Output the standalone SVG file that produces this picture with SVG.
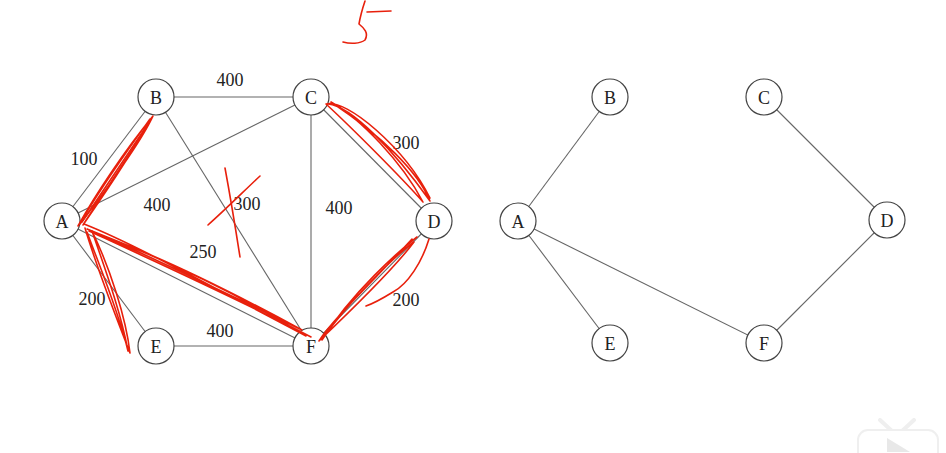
<svg xmlns="http://www.w3.org/2000/svg" width="946" height="453" viewBox="0 0 946 453">
<style>
.node circle{fill:#fff;stroke:#444;stroke-width:1.2}
.node text{font-family:"Liberation Serif",serif;font-size:18px;fill:#222;text-anchor:middle;dominant-baseline:central}
.edge{stroke:#666;stroke-width:1.1;fill:none}
.lbl{font-family:"Liberation Serif",serif;font-size:18px;fill:#222;text-anchor:middle;dominant-baseline:central}
.red{stroke:#e8200c;stroke-width:1.6;fill:none;stroke-linecap:round;stroke-linejoin:round}
</style>
<rect width="946" height="453" fill="#fff"/>
<g id="connectors">
  <line class="edge" x1="62" y1="221" x2="156" y2="97"/>
  <line class="edge" x1="156" y1="97" x2="311" y2="97"/>
  <line class="edge" x1="62" y1="221" x2="311" y2="97"/>
  <line class="edge" x1="156" y1="97" x2="311" y2="346"/>
  <line class="edge" x1="311" y1="97" x2="311" y2="346"/>
  <line class="edge" x1="311" y1="97" x2="434" y2="221"/>
  <line class="edge" x1="434" y1="221" x2="311" y2="346"/>
  <line class="edge" x1="62" y1="221" x2="311" y2="346"/>
  <line class="edge" x1="62" y1="221" x2="156" y2="346"/>
  <line class="edge" x1="156" y1="346" x2="311" y2="346"/>
  <line class="edge" x1="518" y1="221" x2="610" y2="97"/>
  <line class="edge" x1="518" y1="221" x2="610" y2="343"/>
  <line class="edge" x1="518" y1="221" x2="764" y2="343"/>
  <line class="edge" x1="764" y1="97" x2="887" y2="220"/>
  <line class="edge" x1="887" y1="220" x2="764" y2="343"/>
</g>
<g id="labels">
  <text class="lbl" x="230" y="80">400</text>
  <text class="lbl" x="84" y="159">100</text>
  <text class="lbl" x="157" y="205">400</text>
  <text class="lbl" x="247" y="204">300</text>
  <text class="lbl" x="339" y="208">400</text>
  <text class="lbl" x="406" y="143">300</text>
  <text class="lbl" x="203" y="252">250</text>
  <text class="lbl" x="92" y="299">200</text>
  <text class="lbl" x="220" y="331">400</text>
  <text class="lbl" x="406" y="300">200</text>
</g>
<g id="node-A" class="node"><circle cx="62" cy="221" r="18"/><text x="62" y="222">A</text></g>
<g id="node-B" class="node"><circle cx="156" cy="97" r="18"/><text x="156" y="98">B</text></g>
<g id="node-C" class="node"><circle cx="311" cy="97" r="18"/><text x="311" y="98">C</text></g>
<g id="node-D" class="node"><circle cx="434" cy="221" r="18"/><text x="434" y="222">D</text></g>
<g id="node-E" class="node"><circle cx="156" cy="346" r="18"/><text x="156" y="347">E</text></g>
<g id="node-F" class="node"><circle cx="311" cy="346" r="18"/><text x="311" y="347">F</text></g>
<g id="node-A2" class="node"><circle cx="518" cy="221" r="18"/><text x="518" y="222">A</text></g>
<g id="node-B2" class="node"><circle cx="610" cy="97" r="18"/><text x="610" y="98">B</text></g>
<g id="node-C2" class="node"><circle cx="764" cy="97" r="18"/><text x="764" y="98">C</text></g>
<g id="node-D2" class="node"><circle cx="887" cy="220" r="18"/><text x="887" y="221">D</text></g>
<g id="node-E2" class="node"><circle cx="610" cy="343" r="18"/><text x="610" y="344">E</text></g>
<g id="node-F2" class="node"><circle cx="764" cy="343" r="18"/><text x="764" y="344">F</text></g>
<g id="annotations">
  <path class="red" d="M78 226 C95 195 125 150 153 116 C142 140 112 182 80 224 C100 188 128 150 150 119 C136 148 106 192 83 225 C108 186 138 142 152 118"/>
  <path class="red" stroke-width="3" d="M82 222 L150 121"/>
  <path class="red" d="M328 104 C352 106 395 152 430 201 C418 172 382 136 331 102 C360 118 402 162 423 202 C402 178 352 128 326 104 C346 98 405 148 430 198"/>
  <path class="red" d="M417 237 C400 250 352 292 322 340 C345 306 392 258 414 242 C396 266 360 302 319 341 C332 320 376 278 412 239"/>
  <path class="red" d="M429 239 C422 262 408 284 393 292 C380 300 372 304 366 306"/>
  <path class="red" d="M84 224 C130 242 205 283 306 336 C252 302 182 266 87 229 C142 252 232 296 302 330 C232 292 152 252 89 231 C152 260 242 301 311 337"/>
  <path class="red" d="M85 228 C95 262 114 312 130 353 C126 318 110 268 92 231 C104 266 121 312 128 351 C118 310 101 270 87 232"/>
  <path class="red" d="M208 225 C225 210 245 190 260 176"/>
  <path class="red" d="M225 168 C230 195 235 225 240 257"/>
  <path class="red" d="M365 1 C362 10 360 18 359 24 C364 28 369 33 365 40 C360 44 350 44 343 42"/>
  <path class="red" d="M367 12 L391 11"/>
</g>
<g id="player-icon" opacity="0.9">
  <line x1="880" y1="420" x2="893" y2="432" stroke="#eee" stroke-width="4" stroke-linecap="round"/>
  <line x1="914" y1="420" x2="901" y2="432" stroke="#eee" stroke-width="4" stroke-linecap="round"/>
  <rect x="858" y="430" width="80" height="40" rx="10" fill="#fff" stroke="#eee" stroke-width="2"/>
  <path d="M887 438 L910 452 L887 452 Z" fill="#e6e6e6"/>
</g>
</svg>
